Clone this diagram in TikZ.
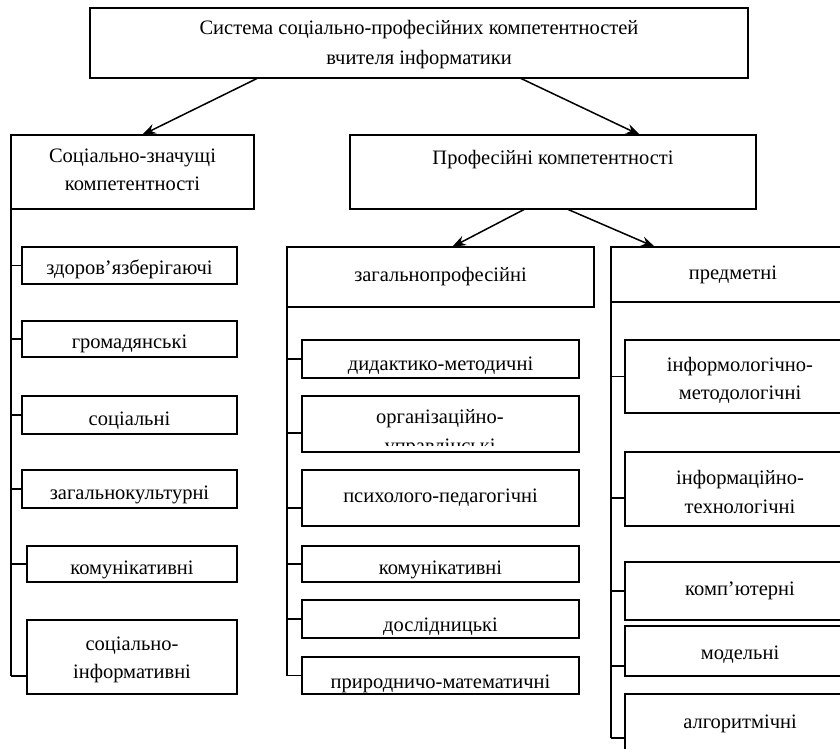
\documentclass[tikz,border=0pt]{standalone}
\usepackage{fontspec}
\setmainfont{Liberation Serif}
\usetikzlibrary{arrows.meta}
% box: [text drop], name, x1, y1, x2, y2, text  (coordinates in px, y downwards)
\newcommand\compbox[7][0]{%
  \node[frame, minimum width={(#5)-(#3)}, minimum height={(#6)-(#4)}]
    (#2) at ({((#3)+(#5))/2},{((#4)+(#6))/2}) {};
  \node[txt, align=center] (#2-t) at ([yshift=-#1pt]#2.center) {#7};}
\begin{document}
\begin{tikzpicture}[x=1pt,y=-1pt,
  txt/.style={font=\fontsize{20.5}{28.5}\selectfont, inner sep=0pt},
  frame/.style={draw, line width=1.5pt, inner sep=0pt, outer sep=0pt},
  link/.style={line width=1.5pt},
  arr/.style={line width=1.5pt, -{Stealth[length=14pt,width=10pt]}}]
\useasboundingbox (0,0) rectangle (840,749);

% top level
\compbox[2]{top}{90}{8}{748}{78}{Система соціально-професійних компетентностей\\[1.5pt]вчителя інформатики}
\compbox[-2]{soc}{11}{135}{254}{209}{Соціально-значущі\\компетентності}
\compbox{prof}{350}{135}{756}{209}{Професійні компетентності\\~}
\compbox{gen}{287}{247}{594}{307}{загальнопрофесійні}
\compbox{subj}{611}{247}{855}{302}{предметні}

% social group
\compbox[4]{s1}{22}{247}{237}{284}{здоров'язберігаючі}
\compbox[5]{s2}{22}{321}{237}{357}{громадянські}
\compbox[6]{s3}{22}{396}{237}{434}{соціальні}
\compbox[6]{s4}{22}{470}{237}{508}{загальнокультурні}
\compbox[6]{s5}{27}{546}{237}{582}{комунікативні}
\compbox[3]{s6}{27}{620}{237}{694}{соціально-\\інформативні}

% general professional group
\compbox[7]{g1}{302}{340}{579}{378}{дидактико-методичні}
\node[frame, minimum width=277, minimum height=56] (g2) at (440.5,424) {};
\begin{scope}
  \clip (g2.north west) rectangle ([yshift=7pt]g2.south east);
  \node[txt, align=center] (g2-t) at (440,433) {організаційно-\\управлінські};
\end{scope}
\compbox{g3}{302}{470}{579}{526}{психолого-педагогічні}
\compbox[6]{g4}{302}{546}{579}{582}{комунікативні}
\compbox[8]{g5}{302}{600}{579}{638}{дослідницькі}
\compbox[8]{g6}{302}{657}{579}{694}{природничо-математичні}

% subject group
\compbox[4]{p1}{625}{340}{855}{413}{інформологічно-\\методологічні}
\compbox[3]{p2}{625}{452}{855}{526}{інформаційно-\\технологічні}
\compbox{p3}{625}{562}{855}{620}{комп'ютерні}
\compbox[4]{p4}{625}{626}{855}{676}{модельні}
\compbox[1]{p5}{625}{694}{855}{752}{алгоритмічні}

% hierarchy arrows
\draw[arr] ([xshift=168pt]top.south west) -- ([xshift=131pt]soc.north west);
\draw[arr] ([xshift=430pt]top.south west) -- ([xshift=290pt]prof.north west);
\draw[arr] ([xshift=175pt]prof.south west) -- ([xshift=165pt]gen.north west);
\draw[arr] ([xshift=217pt]prof.south west) -- ([xshift=44pt]subj.north west);

% social branch
\coordinate (sbot) at (soc.south west |- s6.south);
\draw[link] (soc.south west) -- ([yshift=18pt]sbot);
\foreach \b in {s1,s2,s3,s4,s5}
  \draw[link] (\b.west) -- (\b.west -| soc.south west);
\draw[link] ([yshift=18pt]s6.south west) -- ([yshift=18pt]sbot);

% general professional branch
\coordinate (gbot) at (gen.south west |- g6.west);
\draw[link] (gen.south west) -- (gbot);
\foreach \b in {g1,g4,g5,g6}
  \draw[link] (\b.west) -- (\b.west -| gen.south west);
\draw[link] ([yshift=-9pt]g2.west) -- ([yshift=-9pt]g2.west -| gen.south west);
\draw[link] ([yshift=-10pt]g3.west) -- ([yshift=-10pt]g3.west -| gen.south west);

% subject branch
\coordinate (pbot) at ([yshift=-44pt]subj.south west |- p5.north);
\draw[link] (subj.south west) -- (pbot);
\foreach \b in {p1,p3}
  \draw[link] (\b.west) -- (\b.west -| subj.south west);
\draw[link] ([yshift=-9pt]p2.west) -- ([yshift=-9pt]p2.west -| subj.south west);
\draw[link] ([yshift=-15pt]p4.west) -- ([yshift=-15pt]p4.west -| subj.south west);
\draw[link] (pbot) -- (pbot -| p5.west);
\end{tikzpicture}
\end{document}
